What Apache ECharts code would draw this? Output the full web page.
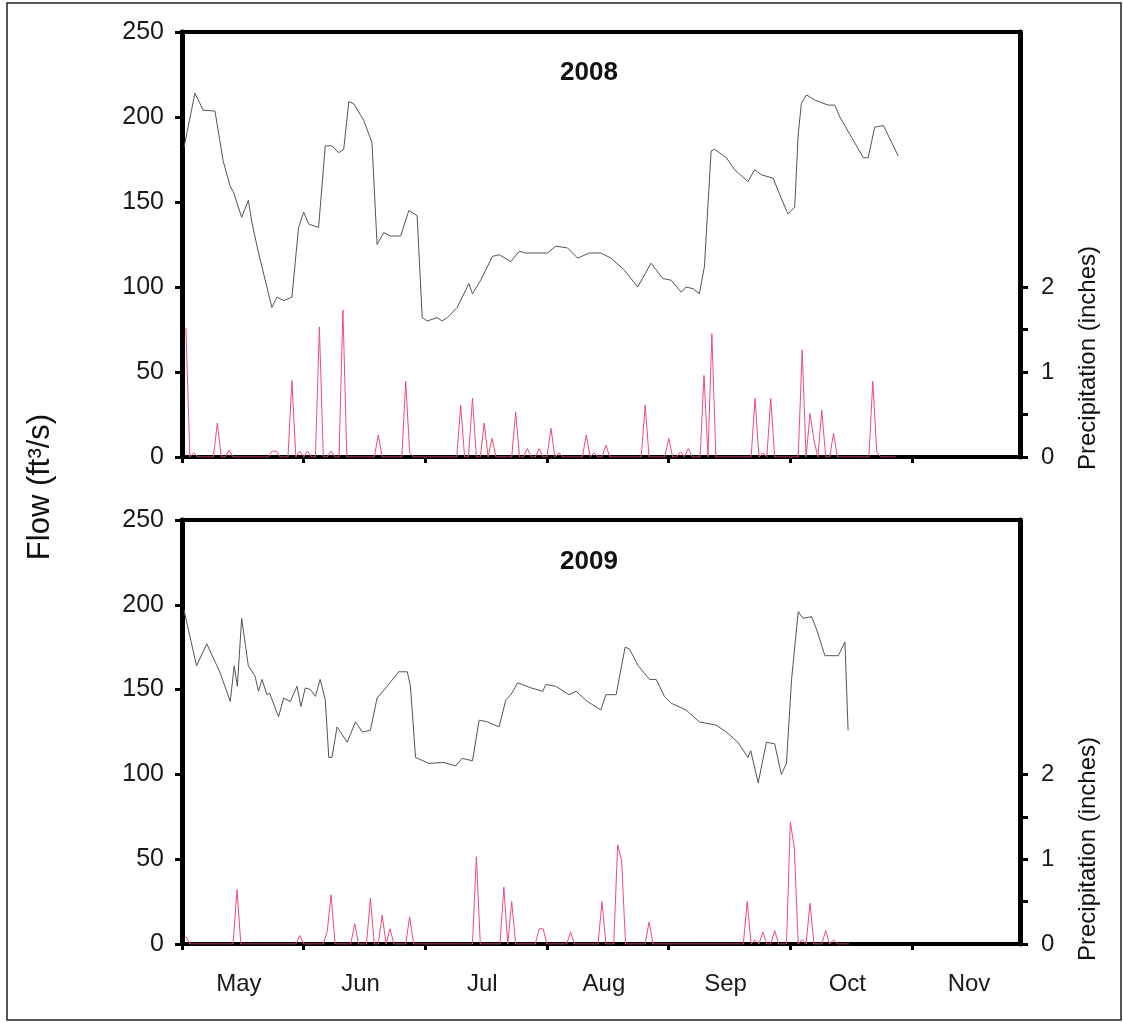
<!DOCTYPE html>
<html>
<head>
<meta charset="utf-8">
<script src="https://cdn.jsdelivr.net/npm/echarts@6/dist/echarts.min.js"></script>
<style>
html,body{margin:0;padding:0;background:#fff;}
#chart{width:1123px;height:1023px;}
</style>
</head>
<body>
<div id="chart"></div>
<script>
// x values are days counted from May 1
const monthNames = ['May','Jun','Jul','Aug','Sep','Oct','Nov'];
const monthTickDays = [0,31,62,93,124,155,186];
const monthLabelDays = [14.5,45.5,76.5,107.5,138.5,169.5,200.5];
const flowTicks = [0,50,100,150,200,250];
const precipTickMarks = [0,0.5,1,1.5,2];
const precipTickLabels = [0,1,2];
const panelTitles = ['2008','2009'];

const flow2008 = [[0.5,182],[3.3,214],[5.4,204],[8.4,203.5],[10.5,174],[12.3,159],[13.1,156],[15.2,141],[16.9,151],[17.8,138],[19.5,120],[22.9,88],[24.2,94],[25.9,92],[28,94],[29.7,135],[31,144],[32.3,137],[34.8,135],[36.5,183],[38.2,183],[39.9,179],[41.2,181],[42.5,209],[43.7,208],[46.3,198],[48.4,185],[49.7,125],[51.4,132],[53.1,130],[55.7,130],[57.8,145],[59.9,142],[61.2,82],[62.5,80],[65,82],[66.3,80],[67.6,82],[70.1,88],[73.1,102],[74,96],[76.1,104],[79.1,118],[80.8,119],[83.8,115],[85.9,121],[87.6,120],[93.1,120],[95.2,124],[98.2,123],[100.8,117],[103.8,120],[106.7,120],[109.3,117],[112.7,110],[116.1,100],[119.5,114],[122.5,105],[124.6,104],[127.2,97],[128.4,100],[130.2,99],[131.8,96],[133.1,112],[134.8,180],[135.7,181],[138.7,176],[140.8,169],[144.2,162],[145.9,169],[147.6,166],[150.6,164],[152.7,152],[154.4,143],[156.1,147],[157,190],[157.8,208],[159.1,213],[161.2,210],[164.6,207],[166.3,207],[167.6,200],[170.6,188],[173.6,176],[174.8,176],[176.5,194],[178.7,195],[182.5,177]];

const flow2009 = [[0.5,197],[3.7,164],[6.3,177],[9.7,160],[12.3,143],[13.3,164],[14.1,152],[15.2,192],[16.9,164],[18.6,158],[19.5,149],[20.4,156],[21.6,147],[22.3,148],[24.6,134],[25.9,145],[27.6,143],[29.3,152],[30.3,140],[31.4,151],[32.7,150],[34,146],[35.2,156],[36.5,144],[37.4,110],[38.2,110],[39.5,128],[42.1,119],[44.2,131],[45.9,125],[48,126],[49.7,145],[52.3,152],[55.2,160.5],[57.4,160.5],[58.2,152],[59.5,110],[62.9,106.5],[66.7,107],[69.7,105],[71.4,109.5],[74,108],[75.7,132],[77.8,131],[80.8,128],[82.5,144],[83.8,147],[85.5,154],[88.9,151],[91.9,149],[92.7,153],[95.2,152],[98.6,147],[100.4,149],[103.3,143],[106.7,138],[108,147],[110.6,147],[112.9,175],[114,174],[116.1,164.5],[119.1,156],[120.8,156],[122.9,146],[124.6,142],[128.4,138],[131.8,131],[136.1,129],[138.7,125],[141.6,119],[144.2,110],[144.9,114],[146.8,95],[148.9,119],[151,118],[152.7,100],[154,106.5],[155.3,156],[157,196],[158.2,192],[160.4,193],[161.6,186],[163.8,170],[167.2,170],[168.9,178],[169.7,126]];

// daily precipitation (inches) on days with rain; all other days are 0
const rain2008 = [[1,1.52],[3,0.05],[9,0.4],[12,0.08],[23,0.07],[24,0.07],[28,0.9],[30,0.07],[32,0.07],[35,1.53],[38,0.07],[41,1.73],[50,0.26],[57,0.89],[58,0.05],[71,0.61],[74,0.69],[77,0.4],[79,0.22],[85,0.53],[88,0.1],[91,0.1],[94,0.34],[96,0.05],[103,0.26],[105,0.05],[108,0.14],[118,0.61],[124,0.22],[127,0.06],[129,0.1],[133,0.96],[135,1.45],[146,0.69],[148,0.05],[150,0.69],[158,1.26],[160,0.51],[161,0.2],[163,0.55],[166,0.28],[176,0.89],[177,0.06]];
const rainLastDay2008 = 182;
const rain2009 = [[1,0.09],[14,0.64],[30,0.1],[37,0.15],[38,0.58],[44,0.24],[48,0.54],[51,0.34],[53,0.18],[58,0.32],[75,1.03],[82,0.67],[84,0.5],[91,0.18],[92,0.18],[99,0.14],[107,0.5],[111,1.17],[112,0.99],[119,0.26],[144,0.5],[146,0.05],[148,0.14],[151,0.16],[155,1.44],[156,1.13],[158,0.05],[160,0.48],[164,0.16],[166,0.05]];
const rainLastDay2009 = 170;

function dailySeries(rain, lastDay){
  const m = new Map(rain.map(r => [r[0], r[1]]));
  const out = [];
  for (let d = 1; d <= lastDay; d++) out.push([d, m.has(d) ? m.get(d) : 0]);
  return out;
}

const FONT = 'Liberation Sans, Arial, sans-serif';
const grids = [
  {left:182, top:32, width:838, height:425},
  {left:182, top:520, width:838, height:424}
];

const chart = echarts.init(document.getElementById('chart'), null, {renderer:'canvas'});

const xAxes = grids.map((g,i) => ({
  type:'value', gridIndex:i, min:0, max:213.5,
  axisLine:{show:true, onZero:false, lineStyle:{color:'#000', width:4}},
  axisTick:{show:true, customValues:monthTickDays, length:6, lineStyle:{color:'#000', width:3}},
  axisLabel:{show:i===1, customValues:monthLabelDays, margin:28, color:'#1a1a1a', fontSize:24, fontFamily:FONT,
    formatter:(v)=>{ const k = monthLabelDays.indexOf(v); return k>=0 ? monthNames[k] : ''; }},
  splitLine:{show:false}
}));

const yAxes = [];
grids.forEach((g,i) => {
  yAxes.push({
    type:'value', gridIndex:i, position:'left', min:0, max:250, interval:50,
    axisLine:{show:true, lineStyle:{color:'#000', width:5}},
    axisTick:{show:true, length:7, lineStyle:{color:'#000', width:3}},
    axisLabel:{margin:18, color:'#1a1a1a', fontSize:25, fontFamily:FONT,
      formatter:(v)=> flowTicks.indexOf(v)>=0 ? String(v) : ''},
    splitLine:{show:false}
  });
  yAxes.push({
    type:'value', gridIndex:i, position:'right', min:0, max:5,
    axisLine:{show:true, lineStyle:{color:'#000', width:5}},
    axisTick:{show:true, customValues:precipTickMarks, length:8, lineStyle:{color:'#000', width:3}},
    axisLabel:{customValues:precipTickLabels, margin:21, color:'#1a1a1a', fontSize:24, fontFamily:FONT},
    splitLine:{show:false}
  });
});

const option = {
  animation:false,
  backgroundColor:'#fff',
  grid: grids.map(g => Object.assign({show:true, borderColor:'#000', borderWidth:4, backgroundColor:'transparent'}, g)),
  xAxis: xAxes,
  yAxis: yAxes,
  series: [
    {type:'line', xAxisIndex:0, yAxisIndex:1, data:dailySeries(rain2008, rainLastDay2008), showSymbol:false, lineStyle:{color:'#ee4d78', width:1}, z:2},
    {type:'line', xAxisIndex:0, yAxisIndex:0, data:flow2008, showSymbol:false, lineStyle:{color:'#555', width:1}, z:3},
    {type:'line', xAxisIndex:1, yAxisIndex:3, data:dailySeries(rain2009, rainLastDay2009), showSymbol:false, lineStyle:{color:'#ee4d78', width:1}, z:2},
    {type:'line', xAxisIndex:1, yAxisIndex:2, data:flow2009, showSymbol:false, lineStyle:{color:'#555', width:1}, z:3}
  ],
  graphic: [
    {type:'rect', silent:true, shape:{x:7, y:3, width:1114, height:1017}, style:{fill:'none', stroke:'#222', lineWidth:1.5}, z:0},
    {type:'text', x:589, y:73, style:{text:panelTitles[0], font:'bold 26px '+FONT, fill:'#111', textAlign:'center', textVerticalAlign:'middle'}},
    {type:'text', x:589, y:562, style:{text:panelTitles[1], font:'bold 26px '+FONT, fill:'#111', textAlign:'center', textVerticalAlign:'middle'}},
    {type:'text', x:1088, y:358, rotation:Math.PI/2, style:{text:'Precipitation (inches)', font:'24px '+FONT, fill:'#111', textAlign:'center', textVerticalAlign:'middle'}},
    {type:'text', x:1088, y:849, rotation:Math.PI/2, style:{text:'Precipitation (inches)', font:'24px '+FONT, fill:'#111', textAlign:'center', textVerticalAlign:'middle'}},
    {type:'text', x:40, y:487, rotation:Math.PI/2, style:{text:'Flow (ft³/s)', font:'31px '+FONT, fill:'#111', textAlign:'center', textVerticalAlign:'middle'}}
  ]
};
chart.setOption(option);
</script>
</body>
</html>
